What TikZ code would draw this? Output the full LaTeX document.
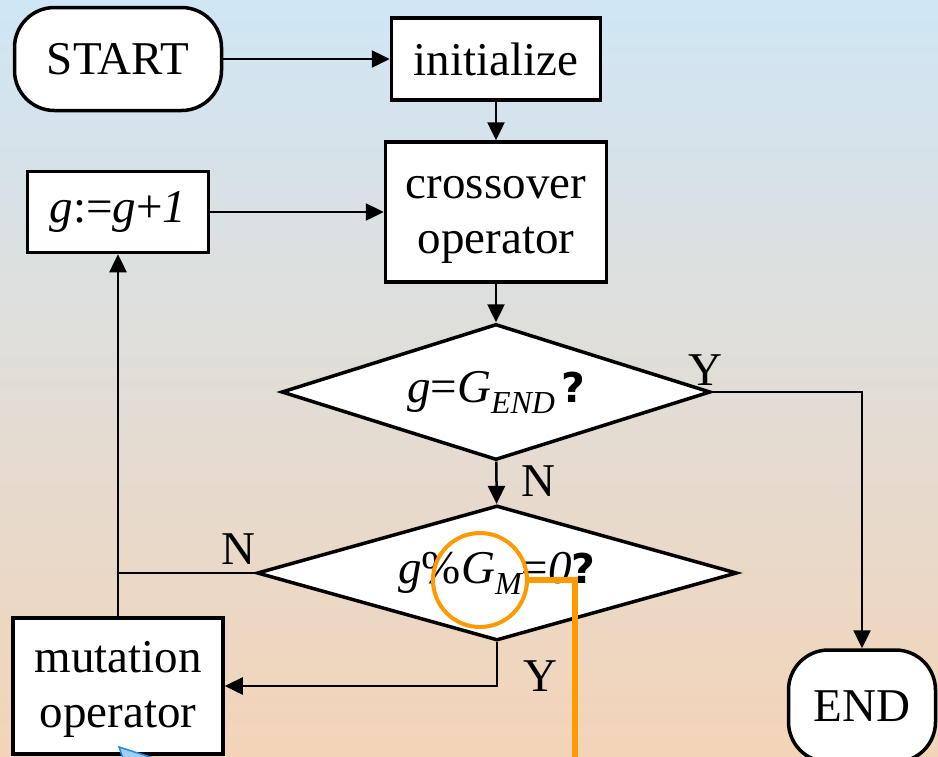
\documentclass[tikz,border=0pt]{standalone}
\usepackage{fontspec}
\setmainfont{Liberation Serif}
\newfontfamily\qmarkfont{DejaVu Sans}
\usetikzlibrary{arrows.meta, calc, positioning, shapes.geometric}

\definecolor{bgtop}{RGB}{207,230,245}
\definecolor{bgmid}{RGB}{226,225,223}
\definecolor{bgbot}{RGB}{243,212,184}
\definecolor{markorange}{RGB}{255,153,0}
\definecolor{pointfill}{RGB}{160,205,240}
\definecolor{pointline}{RGB}{30,140,225}

\newcommand{\qm}{{\qmarkfont\upshape\bfseries\fontsize{41}{41}\selectfont ?}}
\newcommand{\lowsub}[1]{\raisebox{-11pt}{\fontsize{32}{32}\selectfont\itshape #1}}
\newcommand{\topstrut}{\rule{0pt}{44pt}}

\tikzset{
  proc/.style={draw, fill=white, line width=3.5pt, inner sep=0pt, align=center},
  term/.style={proc, rounded corners=40pt},
  decide/.style={draw, fill=white, diamond, line width=3.5pt, inner sep=0pt},
  flow/.style={line width=2.5pt, -{Triangle[length=18pt, width=17pt]}},
  link/.style={line width=2.5pt},
}

\begin{document}
\begin{tikzpicture}[x=1pt, y=-1pt, font=\fontsize{47}{55}\selectfont]

        \useasboundingbox (0,0) rectangle (938,756);
        \clip (0,0) rectangle (938,756);
        \shade[top color=bgtop, middle color=bgmid, bottom color=bgbot] (0,0) rectangle (938,756);

        \node[term, minimum width=207pt, minimum height=103pt] (start) at (118,59) {START};
        \node[proc, minimum width=209pt, minimum height=82pt] (init) at (496,59) {initialize};
        \node[proc, minimum width=221pt, minimum height=140pt] (cross) at (496,212) {\topstrut crossover\\\strut operator};
        \node[proc, minimum width=181pt, minimum height=81pt] (inc) at (118,212) {\itshape g\upshape:=\itshape g\upshape+\itshape 1};

        \node[decide, minimum width=429pt, minimum height=136pt, shape aspect=3.2] (dec1) at (496,392)
            {\itshape g\upshape=\itshape G\lowsub{END}\hspace{6pt}\qm};
        \node[decide, minimum width=480pt, minimum height=135pt, shape aspect=3.5] (dec2) at (497,573)
            {\itshape g\upshape\%\itshape G\lowsub{M}\upshape=\itshape 0\qm};

        \node[proc, minimum width=210pt, minimum height=136pt] (mut) at (118,686) {\topstrut mutation\\\strut operator};
        \node[term, minimum width=147pt, minimum height=112pt] (fin) at (862,706) {END};

        % branch labels
        \node (y1) at (705,370) {Y};
        \node (n1) at (538,481) {N};
        \node (n2) at (238,549) {N};
        \node (y2) at (540,676) {Y};

        \draw[flow] (start.east) -- (init.west);
        \draw[flow] (init) -- (cross);
        \draw[flow] (inc) -- (cross);
        \draw[flow] (cross) -- (dec1);
        \draw[flow] (dec1) -- (dec2);
        \draw[flow] (dec1.east) -| (fin.north);

        \coordinate (join) at (mut.north |- dec2.west);
        \draw[link] (dec2.west) -- (join);
        \draw[flow] (mut.north) -- (inc.south);
        \draw[flow] (dec2.south) |- (mut.east);

        % orange mark
        \node[draw=markorange, circle, line width=4pt, minimum size=94pt, inner sep=0pt] (mark) at (480,580) {};
        \coordinate (markend) at (575,770);
        \draw[markorange, line width=6pt] (mark.east) -| (markend);

        \filldraw[fill=pointfill, draw=pointline, line width=1.5pt] (119,747) -- (172,764) -- (125,764) -- cycle;

    \end{tikzpicture}
\end{document}
